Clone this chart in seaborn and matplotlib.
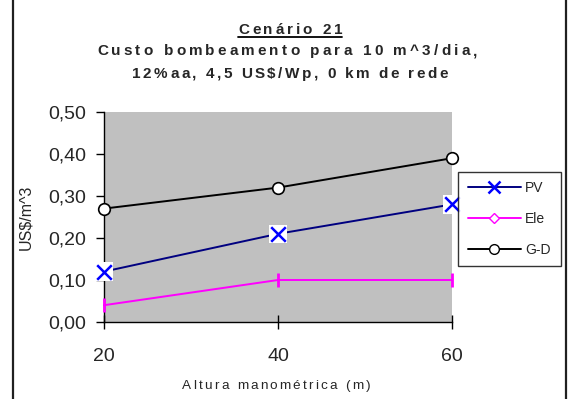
import matplotlib
matplotlib.use("Agg")
import matplotlib.pyplot as plt
import seaborn as sns
import pandas as pd
from matplotlib.lines import Line2D
from matplotlib.patches import Rectangle
from matplotlib.ticker import FuncFormatter
from matplotlib.font_manager import FontProperties, findfont
from matplotlib.ft2font import FT2Font

# data
altura = [20, 40, 60]
custo_pv = [0.12, 0.21, 0.28]
custo_ele = [0.04, 0.10, 0.10]
custo_gd = [0.27, 0.32, 0.39]
series_names = ["PV", "Ele", "G-D"]
title_lines = ["Cenário 21", "Custo bombeamento para 10 m^3/dia,",
               "12%aa, 4,5 US$/Wp, 0 km de rede"]
x_label = "Altura manométrica (m)"
y_label = "US$/m^3"

W, H, DPI = 572, 399, 100

df = pd.DataFrame({
    "altura": altura * 3,
    "custo": custo_pv + custo_ele + custo_gd,
    "serie": [s for s in series_names for _ in altura],
})

sns.set_style("white")
plt.rcParams["font.family"] = ["Liberation Sans", "DejaVu Sans"]


def spaced_text(fig, xc, y_base, s, size, width, weight="normal"):
    # the reference uses letter-spaced text, so place the characters one by one,
    # spreading them until the line is `width` pixels wide
    prop = FontProperties(family="Liberation Sans", weight=weight, size=size)
    font = FT2Font(findfont(prop))
    font.set_size(size, DPI)
    adv = [font.load_char(ord(c)).linearHoriAdvance / 65536 for c in s]
    track = max(0, (width - sum(adv)) / (len(s) - 1))
    x = xc - (sum(adv) + track * (len(s) - 1)) / 2
    left = x
    for c, a in zip(s, adv):
        if c != " ":
            fig.text(x / W, 1 - y_base / H, c, ha="left", va="baseline",
                     fontproperties=prop)
        x += a + track
    return left, x - track


fig = plt.figure(figsize=(W / DPI, H / DPI), dpi=DPI)
ax = fig.add_axes([104 / W, 1 - 322 / H, 348 / W, 210 / H])
ax.set_facecolor("#c0c0c0")

line_colors = {"PV": "#000080", "Ele": "#ff00ff", "G-D": "#000000"}
sns.lineplot(data=df, x="altura", y="custo", hue="serie", palette=line_colors,
             linewidth=1.4, legend=False, ax=ax)
for ln in ax.lines:
    ln.set_clip_on(False)

pv = df[df["serie"] == "PV"]
ele = df[df["serie"] == "Ele"]
gd = df[df["serie"] == "G-D"]

# PV markers: blue x on a white square
sns.scatterplot(data=pv, x="altura", y="custo", marker="s", s=175, color="white",
                edgecolor="none", ax=ax, zorder=4, clip_on=False)
sns.scatterplot(data=pv, x="altura", y="custo", marker="x", s=110, color="#0000ff",
                linewidth=1.8, ax=ax, zorder=5, clip_on=False)
# Ele markers: vertical dashes
sns.scatterplot(data=ele, x="altura", y="custo", marker="|", s=110, color="#ff00ff",
                linewidth=2, ax=ax, zorder=5, clip_on=False)
# G-D markers: open circles
sns.scatterplot(data=gd, x="altura", y="custo", marker="o", s=70, color="white",
                edgecolor="black", linewidth=1.2, ax=ax, zorder=5, clip_on=False)

ax.set_xlim(20, 60)
ax.set_ylim(0, 0.5)
ax.set_xticks(altura)
ax.set_yticks([0, 0.1, 0.2, 0.3, 0.4, 0.5])
ax.yaxis.set_major_formatter(FuncFormatter(lambda v, p: f"{v:.2f}".replace(".", ",")))
ax.tick_params(axis="y", direction="out", length=6, width=1, labelsize=14, pad=7,
               left=True, color="black")
ax.tick_params(axis="x", direction="inout", length=10, width=1, labelsize=14, pad=14,
               bottom=True, color="black")
for side in ["top", "right"]:
    ax.spines[side].set_visible(False)
for side in ["left", "bottom"]:
    ax.spines[side].set_color("black")
    ax.spines[side].set_linewidth(1)

ax.set_xlabel("")
ax.set_ylabel(y_label, fontsize=11.5)
ax.yaxis.set_label_coords(-0.204, 0.5)

# title block, letter-spaced like the reference
l0, r0 = spaced_text(fig, 290, 34, title_lines[0], 11, 104, "bold")
spaced_text(fig, 287, 55, title_lines[1], 11, 380, "bold")
spaced_text(fig, 290, 78, title_lines[2], 11, 316, "bold")
fig.add_artist(Line2D([l0 / W, r0 / W], [1 - 36.5 / H, 1 - 36.5 / H],
                      color="black", linewidth=1.3, transform=fig.transFigure))
spaced_text(fig, 276, 389, x_label, 9.7, 188)

handles = [
    Line2D([], [], color="#000080", marker="x", markeredgecolor="#0000ff",
           markersize=8, markeredgewidth=1.8, linewidth=1.4),
    Line2D([], [], color="#ff00ff", marker="D", markerfacecolor="white",
           markeredgecolor="#ff00ff", markersize=5, linewidth=1.4),
    Line2D([], [], color="black", marker="o", markerfacecolor="white",
           markeredgecolor="black", markersize=7, linewidth=1.4),
]
leg = fig.legend(handles, series_names, loc="center left",
                 bbox_to_anchor=(458 / W, 1 - 219 / H), frameon=True,
                 fancybox=False, edgecolor="black", fontsize=10, handlelength=3.8,
                 labelspacing=1.2, borderpad=0.7, borderaxespad=0,
                 handletextpad=0.35)
leg.get_frame().set_linewidth(1)

# outer chart border (bottom edge falls outside the picture)
fig.add_artist(Rectangle((13 / W, -10 / H), 553 / W, 414 / H, fill=False,
                         edgecolor="#202020", linewidth=1.6,
                         transform=fig.transFigure))

fig.savefig("out.png", dpi=DPI)
